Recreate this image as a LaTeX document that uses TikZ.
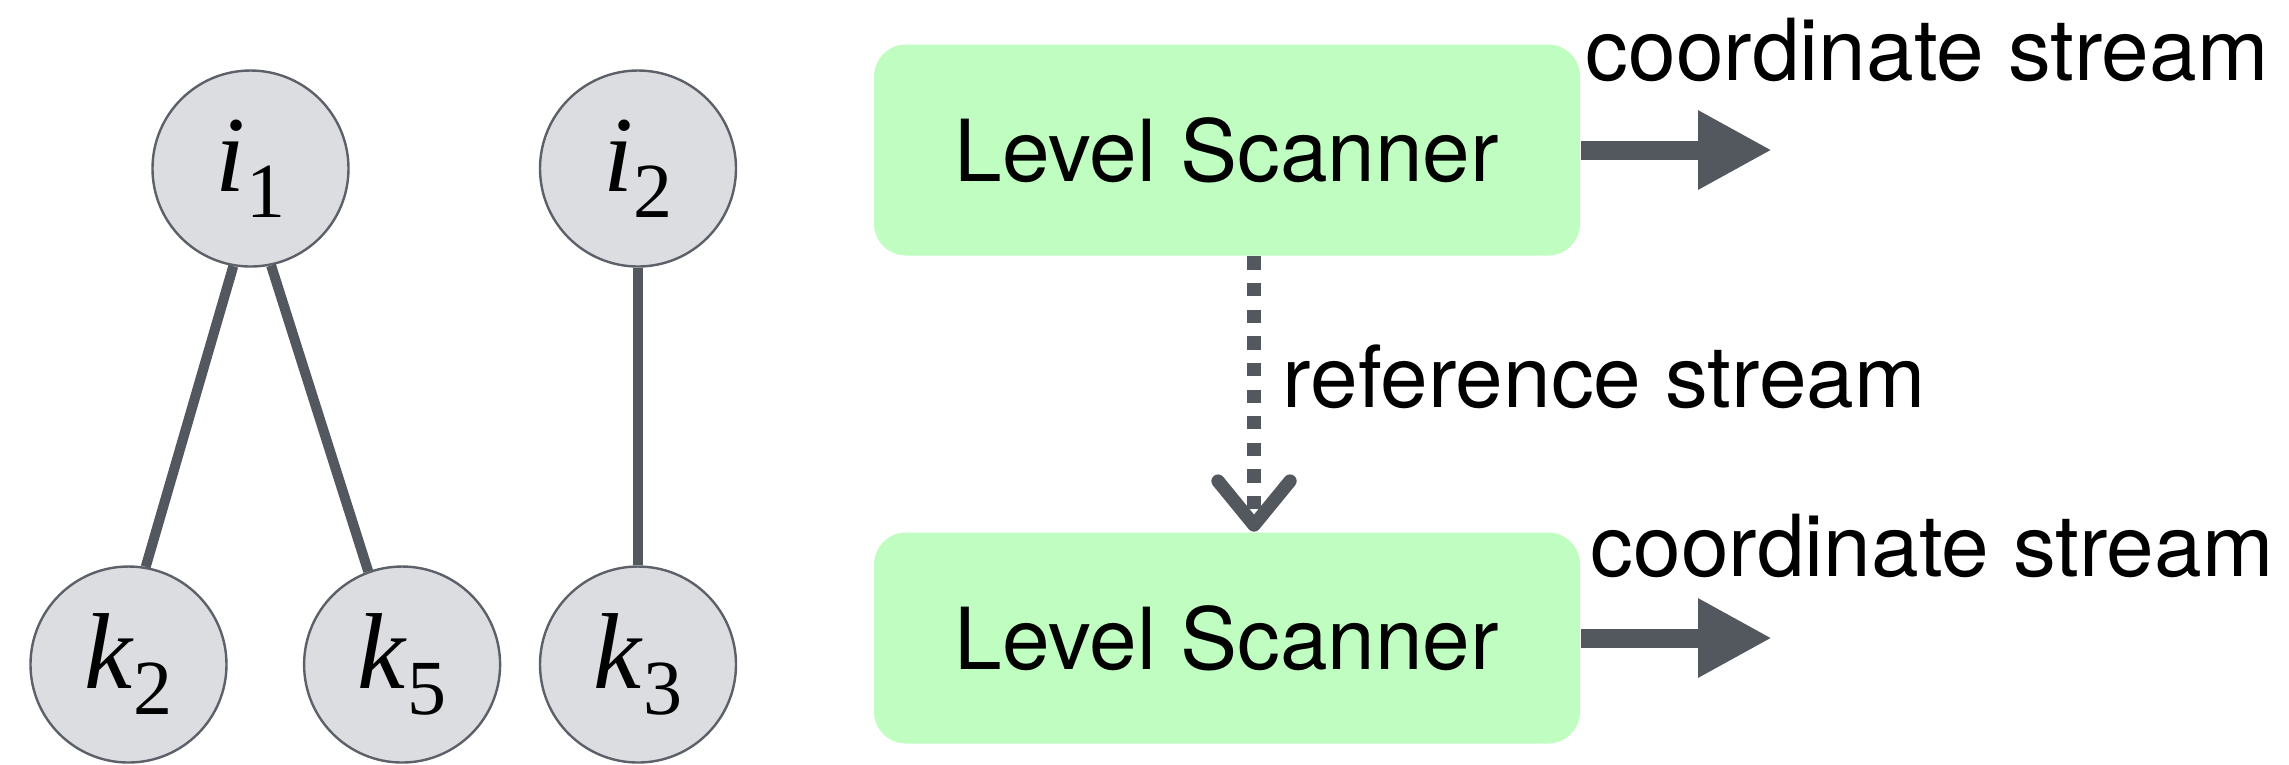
\documentclass[tikz,border=0pt]{standalone}
\usepackage{fontspec}
\setmainfont{TeX Gyre Heros}
\newfontfamily\vertfont{Liberation Serif}
\usepackage{tikz}
\usetikzlibrary{arrows.meta,positioning}

\definecolor{edgegray}{HTML}{53575E}
\definecolor{vertfill}{HTML}{DCDDE0}
\definecolor{vertline}{HTML}{5C6068}
\definecolor{scangreen}{HTML}{C0FDC0}

\newcommand{\vlab}[2]{\textit{#1}\raisebox{-6.5pt}{\fontsize{19.5}{19.5}\selectfont #2}}

\begin{document}
\begin{tikzpicture}[x=0.25pt,y=-0.25pt,
        vert/.style={circle,draw=vertline,fill=vertfill,line width=0.6pt,
            minimum size=49pt,inner sep=0pt,font=\vertfont\fontsize{27}{27}\selectfont},
        tedge/.style={edgegray,line width=2.5pt},
        scanner/.style={fill=scangreen,rounded corners=8pt,minimum width=176.5pt,
            minimum height=52.75pt,font=\fontsize{21.4}{21.4}\selectfont},
        stream/.style={edgegray,line width=4.75pt,-{Triangle[length=18.5pt,width=18.5pt]}},
        lbl/.style={inner sep=0pt,font=\fontsize{21.4}{21.4}\selectfont}]
            \useasboundingbox (0,0) rectangle (2289,764);

            \node [vert] (i1) at (250.5,168.5) {\vlab{i}{1}};
            \node [vert] (k2) at (128.5,664.5) {\vlab{k}{2}};
            \node [vert,right=18.8pt of k2] (k5) {\vlab{k}{5}};
            \draw [tedge] (i1.260) -- (k2.80);
            \draw [tedge] (i1.282) -- (k5.110);

            \node [vert] (i2) at (638,168.5) {\vlab{i}{2}}
                child [level distance=124pt,edge from parent/.style={draw,tedge}] {node [vert] (k3) {\vlab{k}{3}}};

            \node [scanner] (scan1) at (1227,150) {Level Scanner};
            \node [scanner] (scan2) at (1227,638) {Level Scanner};

            \coordinate (out1) at (1772,150);
            \coordinate (out2) at (1772,638);
            \draw [stream] (scan1.east) -- (out1);
            \draw [stream] (scan2.east) -- (out2);
            \node [lbl,anchor=base west] (cs1) at (1585,80) {coordinate stream};
            \node [lbl,anchor=base west] (cs2) at (1590,576) {coordinate stream};

            \draw [edgegray,line width=3.33pt,dash pattern=on 3.33pt off 3.33pt,
                -{Straight Barb[length=11pt,width=18pt,line cap=round,line join=round]}]
                ([xshift=6.75pt]scan1.south) -- ([xshift=6.75pt]scan2.north);
            \node [lbl,anchor=base west] (refs) at (1282,407) {reference stream};
        \end{tikzpicture}
\end{document}
